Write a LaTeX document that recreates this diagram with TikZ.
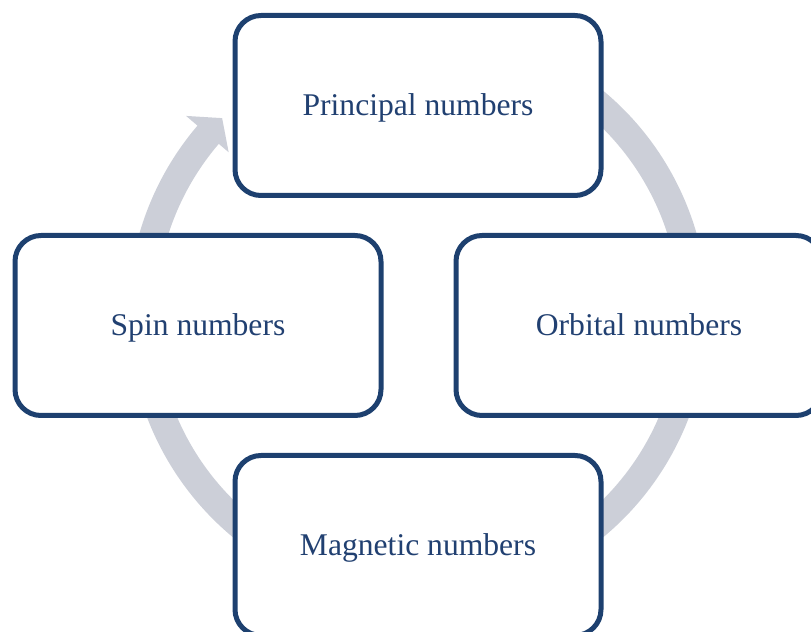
\documentclass[tikz,border=0pt]{standalone}
\usepackage{fontspec}
\setmainfont{Liberation Serif}
\usepackage{tikz}

\definecolor{boxblue}{RGB}{29,64,111}
\definecolor{textblue}{RGB}{33,64,113}
\definecolor{ringgray}{RGB}{204,207,216}

\begin{document}
\begin{tikzpicture}[x=0.5pt,y=0.5pt,
  numbox/.style={draw=boxblue,line width=2.5pt,fill=white,rounded corners=13pt,
    minimum width=183pt,minimum height=90pt,text=textblue,text height=12pt,text depth=2pt,
    font=\fontsize{15.8}{19}\selectfont}]
\useasboundingbox (0,0) rectangle (811,632);
\clip (0,0) rectangle (811,632);

\fill[ringgray,shift={(418,318)}] (65:290) arc (65:-220.5:290) -- (-220.5:305) -- (-225:277)
  -- (-220.5:249) -- (-220.5:262) arc (-220.5:65:262) -- cycle;

\node[numbox] (principal) at (418,526.5) {Principal numbers};
\node[numbox] (orbital) at (639,306.5) {Orbital numbers};
\node[numbox] (magnetic) at (418,86.5) {Magnetic numbers};
\node[numbox] (spin) at (198,306.5) {Spin numbers};
\end{tikzpicture}
\end{document}
